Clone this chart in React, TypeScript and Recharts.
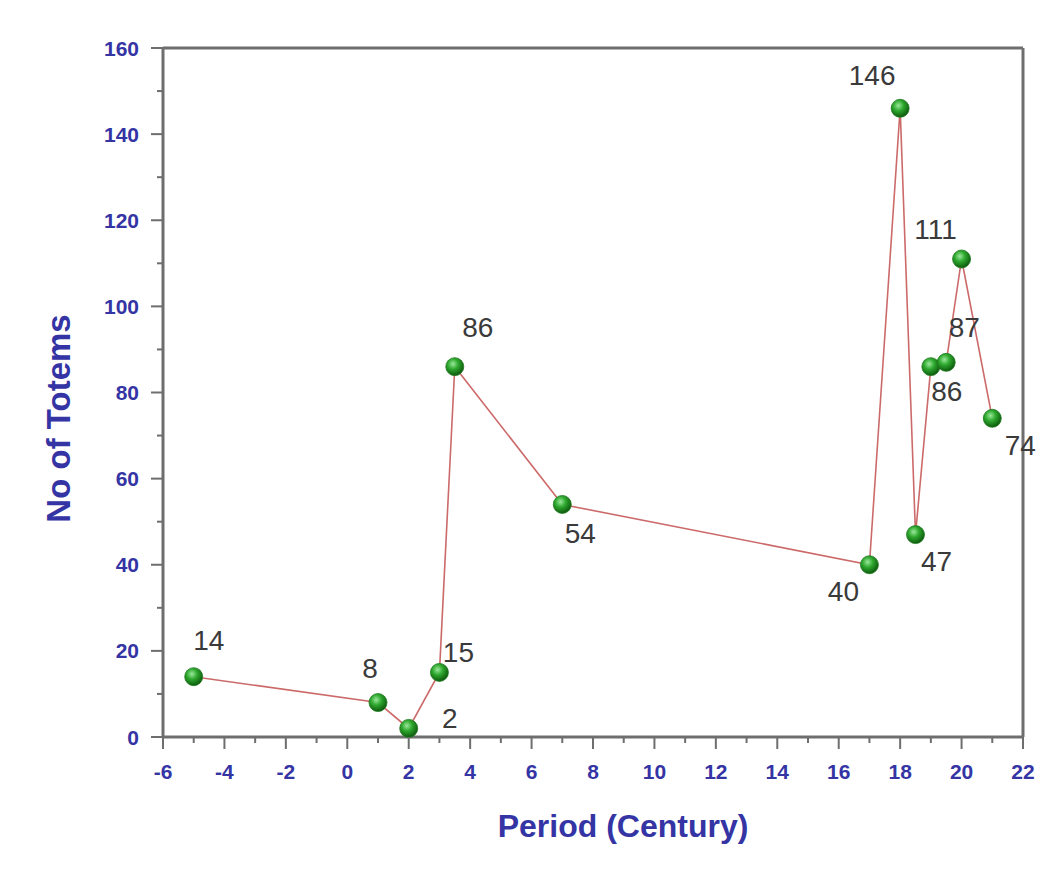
import React from "react";
import { ScatterChart, Scatter, XAxis, YAxis, ReferenceLine } from "recharts";

const periods = [-5, 1, 2, 3, 3.5, 7, 17, 18, 18.5, 19, 19.5, 20, 21];
const totems = [14, 8, 2, 15, 86, 54, 40, 146, 47, 86, 87, 111, 74];
const xTicks = [-6, -5, -4, -3, -2, -1, 0, 1, 2, 3, 4, 5, 6, 7, 8, 9, 10, 11, 12, 13, 14, 15, 16, 17, 18, 19, 20, 21, 22];
const yTicks = [0, 10, 20, 30, 40, 50, 60, 70, 80, 90, 100, 110, 120, 130, 140, 150, 160];
const xMajorStep = 2;
const yMajorStep = 20;
const xTitle = "Period (Century)";
const yTitle = "No of Totems";
// label offsets relative to the marker (style config)
const labelDx = [15, -8, 41, 19, 23, 18, -26, -28, 21, 16, 18, -26, 28];
const labelDy = [-36, -34, -10, -20, -39, 29, 27, -33, 27, 25, -35, -30, 27];

const data = periods.map((p, i) => ({ x: p, y: totems[i], idx: i }));

const BLUE = "#3434a4";
const AXIS = "#6e6e6e";
const TICK_SIZE = 12;
const TICK_MARGIN = 6;

const Ball = (props: any) => {
  const { cx, cy, payload } = props;
  if (cx == null || cy == null) return null;
  const i = payload.idx;
  return (
    <g>
      <circle cx={cx} cy={cy} r={9} fill="url(#ballGrad)" stroke="#1f7a1f" strokeWidth={0.8} />
      <text
        x={cx + labelDx[i]}
        y={cy + labelDy[i]}
        textAnchor="middle"
        dominantBaseline="central"
        fontSize={28}
        fontFamily="Liberation Sans, Arial, sans-serif"
        fill="#3a3a3a"
      >
        {totems[i]}
      </text>
    </g>
  );
};

const XTick = (props: any) => {
  const { x, y, payload } = props;
  const v = payload.value;
  const major = Math.abs(v % xMajorStep) < 1e-9;
  const axisY = y - TICK_SIZE - TICK_MARGIN;
  return (
    <g>
      <line x1={x} x2={x} y1={axisY} y2={axisY + (major ? TICK_SIZE : 6)} stroke={AXIS} strokeWidth={2} />
      {major && (
        <text x={x} y={y + 9} textAnchor="middle" dominantBaseline="hanging" fill={BLUE} fontSize={21} fontWeight="bold">
          {v}
        </text>
      )}
    </g>
  );
};

const YTick = (props: any) => {
  const { x, y, payload } = props;
  const v = payload.value;
  const major = Math.abs(v % yMajorStep) < 1e-9;
  const axisX = x + TICK_SIZE + TICK_MARGIN;
  return (
    <g>
      <line x1={axisX - (major ? TICK_SIZE : 6)} x2={axisX} y1={y} y2={y} stroke={AXIS} strokeWidth={2} />
      {major && (
        <text x={x - 6} y={y} textAnchor="end" dominantBaseline="central" fill={BLUE} fontSize={21} fontWeight="bold">
          {v}
        </text>
      )}
    </g>
  );
};

const XTitle = (props: any) => {
  const vb = props.viewBox || {};
  const cx = vb.x + vb.width / 2 + 30;
  const cy = vb.y + 89;
  return (
    <text x={cx} y={cy} textAnchor="middle" dominantBaseline="central" fill={BLUE} fontSize={32} fontWeight="bold">
      {xTitle}
    </text>
  );
};

const YTitle = (props: any) => {
  const vb = props.viewBox || {};
  const cx = vb.x + 58;
  const cy = vb.y + vb.height / 2 + 26;
  return (
    <text
      x={cx}
      y={cy}
      transform={`rotate(-90 ${cx} ${cy})`}
      textAnchor="middle"
      dominantBaseline="central"
      fill={BLUE}
      fontSize={33}
      fontWeight="bold"
    >
      {yTitle}
    </text>
  );
};

export default function App() {
  return (
    <div style={{ position: "absolute", left: 0, top: 0, width: 1055, height: 876, background: "#fff" }}>
      <ScatterChart
        width={1055}
        height={876}
        margin={{ top: 48, right: 32, left: 0, bottom: 0 }}
        style={{ fontFamily: "Liberation Sans, Arial, sans-serif" }}
      >
        <defs>
          <radialGradient id="ballGrad" cx="40%" cy="35%" r="65%">
            <stop offset="0%" stopColor="#9be89b" />
            <stop offset="45%" stopColor="#2ea82e" />
            <stop offset="100%" stopColor="#0d5a0d" />
          </radialGradient>
        </defs>
        <XAxis
          type="number"
          dataKey="x"
          domain={[-6, 22]}
          ticks={xTicks}
          interval={0}
          height={139}
          tickSize={TICK_SIZE}
          tickMargin={TICK_MARGIN}
          axisLine={{ stroke: AXIS, strokeWidth: 3 }}
          tickLine={false}
          tick={<XTick />}
          label={<XTitle />}
        />
        <YAxis
          type="number"
          dataKey="y"
          domain={[0, 160]}
          ticks={yTicks}
          interval={0}
          width={163}
          tickSize={TICK_SIZE}
          tickMargin={TICK_MARGIN}
          axisLine={{ stroke: AXIS, strokeWidth: 3 }}
          tickLine={false}
          tick={<YTick />}
          label={<YTitle />}
        />
        <ReferenceLine y={160} stroke={AXIS} strokeWidth={3} ifOverflow="visible" />
        <ReferenceLine x={22} stroke={AXIS} strokeWidth={3} ifOverflow="visible" />
        <Scatter
          data={data}
          line={{ stroke: "#cc6a6a", strokeWidth: 1.6 }}
          lineJointType="linear"
          shape={<Ball />}
          isAnimationActive={false}
        />
      </ScatterChart>
    </div>
  );
}
